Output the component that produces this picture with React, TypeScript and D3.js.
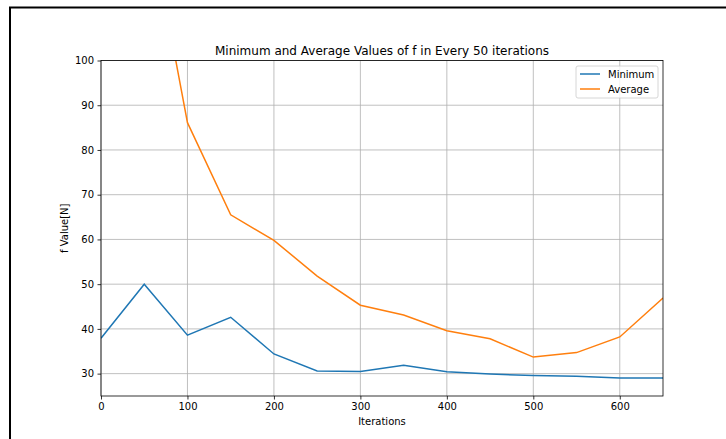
import { useEffect, useRef } from 'react';
import * as d3 from 'd3';

const iterations = [0, 50, 100, 150, 200, 250, 300, 350, 400, 450, 500, 550, 600, 650];
const minimumValues = [37.9, 50.0, 38.6, 42.6, 34.4, 30.6, 30.5, 31.9, 30.4, 29.9, 29.6, 29.4, 29.0, 29.0];
const averageValues = [180, 137.5, 86.1, 65.5, 59.8, 51.8, 45.3, 43.1, 39.6, 37.8, 33.7, 34.7, 38.2, 46.9];
const xTicks = [0, 100, 200, 300, 400, 500, 600];
const yTicks = [30, 40, 50, 60, 70, 80, 90, 100];
const seriesNames = ['Minimum', 'Average'];
const seriesColors = ['#1f77b4', '#ff7f0e'];

const App = () => {
  const chartRef = useRef<SVGSVGElement>(null);

  useEffect(() => {
    if (!chartRef.current) return;
    d3.select(chartRef.current).selectAll('*').remove();

    const width = 726;
    const height = 439;
    const margin = { top: 60.5, right: 63, bottom: 43, left: 101 };
    const font = 'DejaVu Sans, sans-serif';

    const svg = d3
      .select(chartRef.current)
      .attr('width', width)
      .attr('height', height)
      .style('font-family', font);

    svg.append('rect').attr('width', width).attr('height', height).attr('fill', '#fff');

    // figure frame (cropped at right and bottom)
    svg
      .append('rect')
      .attr('x', 10)
      .attr('y', 7.5)
      .attr('width', width + 20)
      .attr('height', height + 20)
      .attr('fill', 'none')
      .attr('stroke', '#000')
      .attr('stroke-width', 2);

    const x = d3
      .scaleLinear()
      .domain([0, 650])
      .range([margin.left, width - margin.right]);
    const y = d3
      .scaleLinear()
      .domain([25, 100])
      .range([height - margin.bottom, margin.top]);

    // grid
    const grid = svg.append('g');
    grid
      .selectAll('line.gx')
      .data(xTicks)
      .join('line')
      .attr('x1', (d) => x(d))
      .attr('x2', (d) => x(d))
      .attr('y1', y(25))
      .attr('y2', y(100))
      .attr('stroke', '#b0b0b0')
      .attr('stroke-width', 0.8);
    grid
      .selectAll('line.gy')
      .data(yTicks)
      .join('line')
      .attr('x1', x(0))
      .attr('x2', x(650))
      .attr('y1', (d) => y(d))
      .attr('y2', (d) => y(d))
      .attr('stroke', '#b0b0b0')
      .attr('stroke-width', 0.8);

    // lines
    svg
      .append('clipPath')
      .attr('id', 'plot-clip')
      .append('rect')
      .attr('x', x(0))
      .attr('y', y(100))
      .attr('width', x(650) - x(0))
      .attr('height', y(25) - y(100));

    const series = [minimumValues, averageValues];
    const line = d3
      .line<number>()
      .x((_, i) => x(iterations[i]))
      .y((d) => y(d));

    series.forEach((values, i) => {
      svg
        .append('path')
        .datum(values)
        .attr('clip-path', 'url(#plot-clip)')
        .attr('fill', 'none')
        .attr('stroke', seriesColors[i])
        .attr('stroke-width', 1.5)
        .attr('d', line);
    });

    // axes
    const xAxis = svg
      .append('g')
      .attr('transform', `translate(0,${y(25)})`)
      .call(d3.axisBottom(x).tickValues(xTicks).tickSize(3.5).tickPadding(3.5));
    const yAxis = svg
      .append('g')
      .attr('transform', `translate(${x(0)},0)`)
      .call(d3.axisLeft(y).tickValues(yTicks).tickSize(3.5).tickPadding(3.5));
    [xAxis, yAxis].forEach((g) => {
      g.selectAll('text').attr('font-size', 10).attr('font-family', font).attr('fill', '#000');
      g.selectAll('line').attr('stroke', '#000').attr('stroke-width', 0.8);
      g.select('.domain').remove();
    });

    // spines
    svg
      .append('rect')
      .attr('x', x(0))
      .attr('y', y(100))
      .attr('width', x(650) - x(0))
      .attr('height', y(25) - y(100))
      .attr('fill', 'none')
      .attr('stroke', '#000')
      .attr('stroke-width', 0.8);

    // labels
    svg
      .append('text')
      .attr('x', (x(0) + x(650)) / 2)
      .attr('y', 55)
      .attr('text-anchor', 'middle')
      .attr('font-size', 12)
      .text('Minimum and Average Values of f in Every 50 iterations');
    svg
      .append('text')
      .attr('x', (x(0) + x(650)) / 2)
      .attr('y', 425)
      .attr('text-anchor', 'middle')
      .attr('font-size', 10)
      .text('Iterations');
    svg
      .append('text')
      .attr('transform', `translate(68,${(y(25) + y(100)) / 2}) rotate(-90)`)
      .attr('text-anchor', 'middle')
      .attr('font-size', 10)
      .text('f Value[N]');

    // legend
    const legend = svg.append('g').attr('transform', `translate(576,66)`);
    legend
      .append('rect')
      .attr('width', 82)
      .attr('height', 32)
      .attr('rx', 2)
      .attr('fill', '#fff')
      .attr('fill-opacity', 0.8)
      .attr('stroke', '#ccc')
      .attr('stroke-width', 0.8);
    seriesNames.forEach((name, i) => {
      const ly = 8 + i * 15;
      legend
        .append('line')
        .attr('x1', 4)
        .attr('x2', 24)
        .attr('y1', ly)
        .attr('y2', ly)
        .attr('stroke', seriesColors[i])
        .attr('stroke-width', 1.5);
      legend
        .append('text')
        .attr('x', 32)
        .attr('y', ly + 3.5)
        .attr('font-size', 10)
        .text(name);
    });
  }, []);

  return <svg ref={chartRef} style={{ position: 'absolute', left: 0, top: 0, display: 'block' }} />;
};

export default App;
